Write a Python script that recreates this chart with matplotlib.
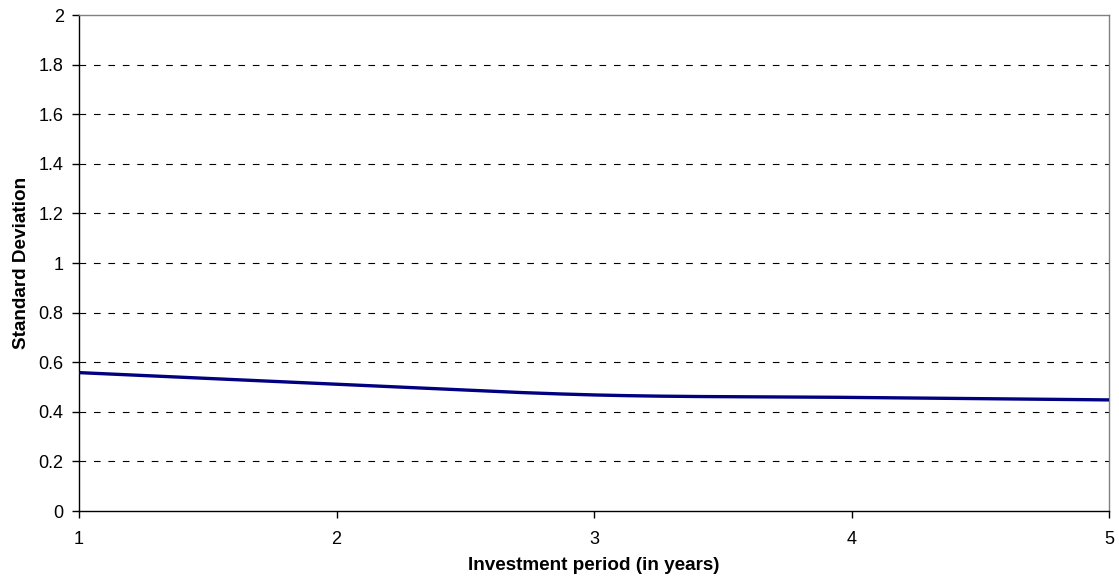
import numpy as np
import matplotlib
matplotlib.use("Agg")
import matplotlib.pyplot as plt

years = [1, 2, 3, 4, 5]
std_dev = [0.558, 0.511, 0.468, 0.458, 0.448]
y_ticks = [0, 0.2, 0.4, 0.6, 0.8, 1, 1.2, 1.4, 1.6, 1.8, 2]
y_tick_labels = ["0", "0.2", "0.4", "0.6", "0.8", "1", "1.2", "1.4", "1.6", "1.8", "2"]

plt.rcParams['font.family'] = ['Liberation Sans', 'DejaVu Sans']


def smooth(xs, ys, n=40):
    # Catmull-Rom spline through the points (Excel-like smoothed line)
    xs = np.asarray(xs, float)
    ys = np.asarray(ys, float)
    P = np.column_stack([xs, ys])
    P = np.vstack([P[0] - (P[1] - P[0]), P, P[-1] + (P[-1] - P[-2])])
    out = []
    for i in range(1, len(P) - 2):
        p0, p1, p2, p3 = P[i - 1], P[i], P[i + 1], P[i + 2]
        t = np.linspace(0, 1, n)[:, None]
        seg = 0.5 * ((2 * p1) + (-p0 + p2) * t + (2 * p0 - 5 * p1 + 4 * p2 - p3) * t ** 2
                     + (-p0 + 3 * p1 - 3 * p2 + p3) * t ** 3)
        out.append(seg if i == len(P) - 3 else seg[:-1])
    out = np.vstack(out)
    return out[:, 0], out[:, 1]


fig = plt.figure(figsize=(11.19, 5.82), dpi=100)
ax = fig.add_axes([79 / 1119, 71 / 582, 1030 / 1119, 496 / 582])

ax.set_xlim(1, 5)
ax.set_ylim(0, 2)
ax.set_yticks(y_ticks)
ax.set_yticklabels(y_tick_labels)
ax.set_xticks(years)
ax.set_xticklabels([str(v) for v in years])

for yv in y_ticks[1:-1]:
    ax.axhline(yv, color='black', linewidth=0.8, linestyle=(0, (6, 7)), zorder=1)

sx, sy = smooth(years, std_dev)
ax.plot(sx, sy, color='#000080', linewidth=2.4, zorder=3, solid_capstyle='butt')

for s in ['top', 'right']:
    ax.spines[s].set_color('#808080')
    ax.spines[s].set_linewidth(1.0)
for s in ['left', 'bottom']:
    ax.spines[s].set_color('black')
    ax.spines[s].set_linewidth(1.0)

ax.tick_params(axis='both', direction='out', length=5, width=1, color='black',
               labelsize=13)
ax.tick_params(axis='y', pad=6)
ax.tick_params(axis='x', pad=9.5)

ax.set_xlabel("Investment period (in years)", fontsize=13.6, fontweight='bold', labelpad=6.5)
ax.set_ylabel("Standard Deviation", fontsize=13.6, fontweight='bold', labelpad=6)

fig.savefig("out.png", dpi=100, facecolor='white')
